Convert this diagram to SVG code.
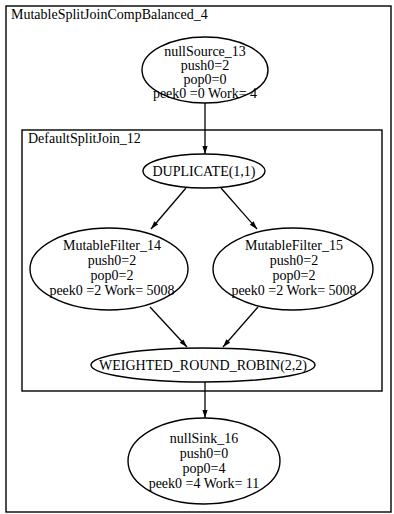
<svg xmlns="http://www.w3.org/2000/svg" width="394" height="514" viewBox="0 0 394 514">
  <style>
    text { font-family: "Liberation Serif", "Times New Roman", serif; font-size: 14px; fill: #000; }
    .c { text-anchor: middle; }
    .node ellipse { fill: none; stroke: #000; stroke-width: 1.4; }
    .cluster rect { fill: none; stroke: #000; stroke-width: 1.4; }
    .edges line { stroke: #000; stroke-width: 1.3; marker-end: url(#arrow); }
  </style>
  <defs>
    <marker id="arrow" viewBox="0 0 10 10" refX="10" refY="5" markerWidth="9" markerHeight="8" markerUnits="userSpaceOnUse" orient="auto">
      <path d="M0,1.8 L10,5 L0,8.2 Z" fill="#000"/>
    </marker>
  </defs>
  <rect width="394" height="514" fill="#fff"/>

  <!-- outer pipeline cluster -->
  <g id="cluster_outer" class="cluster">
    <rect x="6" y="6" width="385" height="506"/>
    <text x="11" y="19">MutableSplitJoinCompBalanced_4</text>
  </g>

  <!-- split-join cluster -->
  <g id="cluster_splitjoin" class="cluster">
    <rect x="22" y="130" width="360" height="261"/>
    <text x="28" y="143">DefaultSplitJoin_12</text>
  </g>

  <g class="edges" id="edges">
    <line x1="205" y1="103" x2="205" y2="154"/>
    <line x1="186" y1="188" x2="151" y2="229"/>
    <line x1="221" y1="188" x2="257" y2="229"/>
    <line x1="150" y1="307" x2="187" y2="347"/>
    <line x1="258" y1="307" x2="223" y2="347"/>
    <line x1="205" y1="382" x2="205" y2="418"/>
  </g>

  <g id="nullSource_13" class="node">
    <ellipse cx="205" cy="70" rx="63" ry="33"/>
    <text class="c" x="205" y="56">nullSource_13</text>
    <text class="c" x="205" y="70">push0=2</text>
    <text class="c" x="205" y="84">pop0=0</text>
    <text class="c" x="205" y="98">peek0 =0 Work= 4</text>
  </g>

  <g id="DUPLICATE" class="node">
    <ellipse cx="204" cy="171" rx="61" ry="17"/>
    <text class="c" x="204" y="176">DUPLICATE(1,1)</text>
  </g>

  <g id="MutableFilter_14" class="node">
    <ellipse cx="109" cy="269" rx="79" ry="41"/>
    <text class="c" x="112" y="250">MutableFilter_14</text>
    <text class="c" x="112" y="265">push0=2</text>
    <text class="c" x="112" y="280">pop0=2</text>
    <text class="c" x="112" y="295">peek0 =2 Work= 5008</text>
  </g>

  <g id="MutableFilter_15" class="node">
    <ellipse cx="293" cy="269" rx="80" ry="41"/>
    <text class="c" x="294" y="250">MutableFilter_15</text>
    <text class="c" x="294" y="265">push0=2</text>
    <text class="c" x="294" y="280">pop0=2</text>
    <text class="c" x="294" y="295">peek0 =2 Work= 5008</text>
  </g>

  <g id="WEIGHTED_ROUND_ROBIN" class="node">
    <ellipse cx="203" cy="365" rx="112" ry="17"/>
    <text class="c" x="203" y="370">WEIGHTED_ROUND_ROBIN(2,2)</text>
  </g>

  <g id="nullSink_16" class="node">
    <ellipse cx="204" cy="461" rx="76" ry="43"/>
    <text class="c" x="204" y="443">nullSink_16</text>
    <text class="c" x="204" y="458">push0=0</text>
    <text class="c" x="204" y="473">pop0=4</text>
    <text class="c" x="204" y="488">peek0 =4 Work= 11</text>
  </g>
</svg>
